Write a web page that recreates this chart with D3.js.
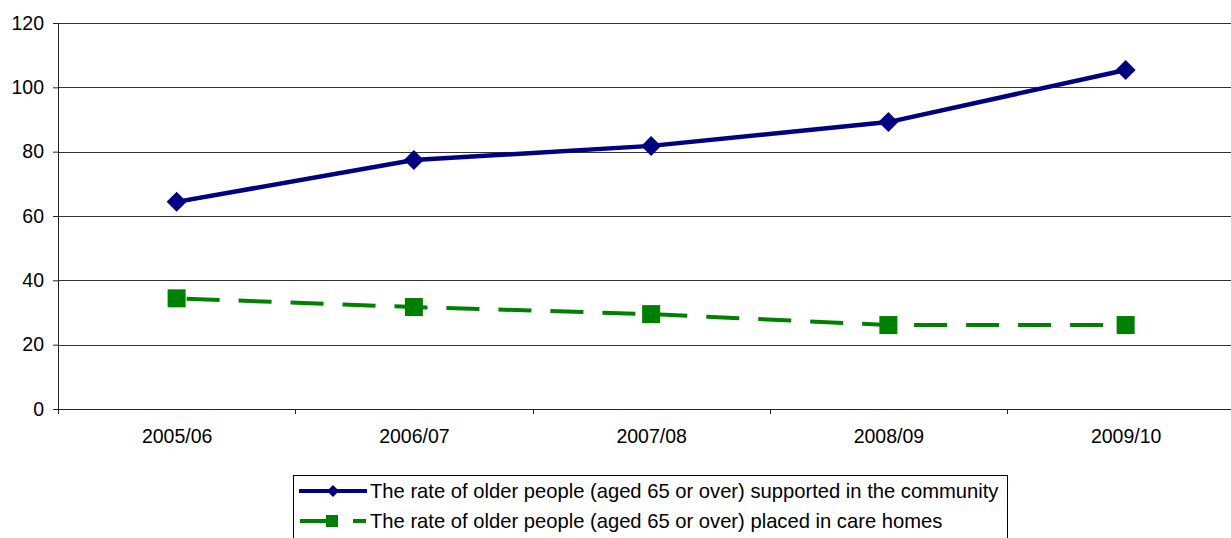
<!DOCTYPE html>
<html lang="en">
<head>
<meta charset="UTF-8">
<title>Older people supported</title>
<script src="https://d3js.org/d3.v7.min.js"></script>
<style>
    body { margin: 0; background: #fff; }
    svg { display: block; font-family: "Liberation Sans", Arial, sans-serif; }
</style>
</head>
<body>
<script>
// data
const years = ["2005/06", "2006/07", "2007/08", "2008/09", "2009/10"];
const community = [64.4, 77.4, 81.8, 89.2, 105.4];
const careHomes = [34.4, 31.7, 29.5, 26.1, 26.1];
const yTicks = [0, 20, 40, 60, 80, 100, 120];
const seriesNames = [
    "The rate of older people (aged 65 or over) supported in the community",
    "The rate of older people (aged 65 or over) placed in care homes"
];

const width = 1231, height = 538;
const plotLeft = 58, plotTop = 23, plotBottom = 409;

const svg = d3.select("body").append("svg")
    .attr("width", width).attr("height", height);

const x = d3.scaleBand().domain(years).range([plotLeft, plotLeft + 5 * 237.25]).paddingInner(0).paddingOuter(0);
const y = d3.scaleLinear().domain([0, 120]).range([plotBottom, plotTop]);
const cx = d => x(d) + x.bandwidth() / 2;

// gridlines + y axis
const yAxis = d3.axisLeft(y).tickValues(yTicks).tickSize(5).tickPadding(9);
const gy = svg.append("g").attr("transform", `translate(${plotLeft},0)`).call(yAxis);
gy.select(".domain").remove();
gy.selectAll(".tick line").attr("stroke", "#222");
gy.selectAll(".tick text").attr("font-size", 19.5).attr("fill", "#000")
    .attr("font-family", "Liberation Sans, Arial, sans-serif");

svg.append("g").selectAll("line")
    .data(yTicks.filter(t => t > 0))
    .join("line")
    .attr("x1", plotLeft).attr("x2", width)
    .attr("y1", d => Math.round(y(d)) + 0.5).attr("y2", d => Math.round(y(d)) + 0.5)
    .attr("stroke", "#333").attr("stroke-width", 1);

// x axis line and boundary ticks
svg.append("line")
    .attr("x1", plotLeft).attr("x2", width)
    .attr("y1", plotBottom + 0.5).attr("y2", plotBottom + 0.5)
    .attr("stroke", "#222");
svg.append("line")
    .attr("x1", plotLeft + 0.5).attr("x2", plotLeft + 0.5)
    .attr("y1", plotTop).attr("y2", plotBottom + 5)
    .attr("stroke", "#222");

const edges = years.map(d => x(d)).concat([x(years[4]) + x.bandwidth()]);
svg.append("g").selectAll("line")
    .data(edges)
    .join("line")
    .attr("x1", d => Math.round(d) + 0.5).attr("x2", d => Math.round(d) + 0.5)
    .attr("y1", plotBottom).attr("y2", plotBottom + 5)
    .attr("stroke", "#222");

const xAxis = d3.axisBottom(d3.scalePoint().domain(years).range([cx(years[0]), cx(years[4])]))
    .tickSize(0).tickPadding(20);
const gx = svg.append("g").attr("transform", `translate(0,${plotBottom})`).call(xAxis);
gx.select(".domain").remove();
gx.selectAll(".tick text").attr("font-size", 19.5).attr("fill", "#000")
    .attr("font-family", "Liberation Sans, Arial, sans-serif");

// lines
const line = d3.line().x((d, i) => cx(years[i])).y(d => y(d));

svg.append("path").datum(careHomes)
    .attr("d", line)
    .attr("fill", "none").attr("stroke", "#008000")
    .attr("stroke-width", 4).attr("stroke-dasharray", "33,19").attr("stroke-dashoffset", -10);

svg.append("g").selectAll("rect")
    .data(careHomes)
    .join("rect")
    .attr("x", (d, i) => cx(years[i]) - 9).attr("y", d => y(d) - 9)
    .attr("width", 18).attr("height", 18)
    .attr("fill", "#008000");

svg.append("path").datum(community)
    .attr("d", line)
    .attr("fill", "none").attr("stroke", "#000080").attr("stroke-width", 4.5);

svg.append("g").selectAll("path")
    .data(community)
    .join("path")
    .attr("transform", (d, i) => `translate(${cx(years[i])},${y(d)})`)
    .attr("d", "M0,-10L10,0L0,10L-10,0Z")
    .attr("fill", "#000080");

// legend
const lg = svg.append("g");
lg.append("rect")
    .attr("x", 293.5).attr("y", 475.5).attr("width", 714).attr("height", 80)
    .attr("fill", "#fff").attr("stroke", "#000");

const rowY = [491, 521];
lg.append("line").attr("x1", 299).attr("x2", 367).attr("y1", rowY[0]).attr("y2", rowY[0])
    .attr("stroke", "#000080").attr("stroke-width", 4);
lg.append("path").attr("transform", `translate(333,${rowY[0]})`)
    .attr("d", "M0,-6L6,0L0,6L-6,0Z").attr("fill", "#000080");

lg.append("line").attr("x1", 300).attr("x2", 336).attr("y1", rowY[1]).attr("y2", rowY[1])
    .attr("stroke", "#008000").attr("stroke-width", 4);
lg.append("line").attr("x1", 353).attr("x2", 366).attr("y1", rowY[1]).attr("y2", rowY[1])
    .attr("stroke", "#008000").attr("stroke-width", 4);
lg.append("rect").attr("x", 326).attr("y", rowY[1] - 6).attr("width", 12).attr("height", 12)
    .attr("fill", "#008000");

lg.selectAll("text")
    .data(seriesNames)
    .join("text")
    .attr("x", 370).attr("y", (d, i) => rowY[i] + 7)
    .attr("font-size", 20.2).attr("fill", "#000")
    .text(d => d);
</script>
</body>
</html>
